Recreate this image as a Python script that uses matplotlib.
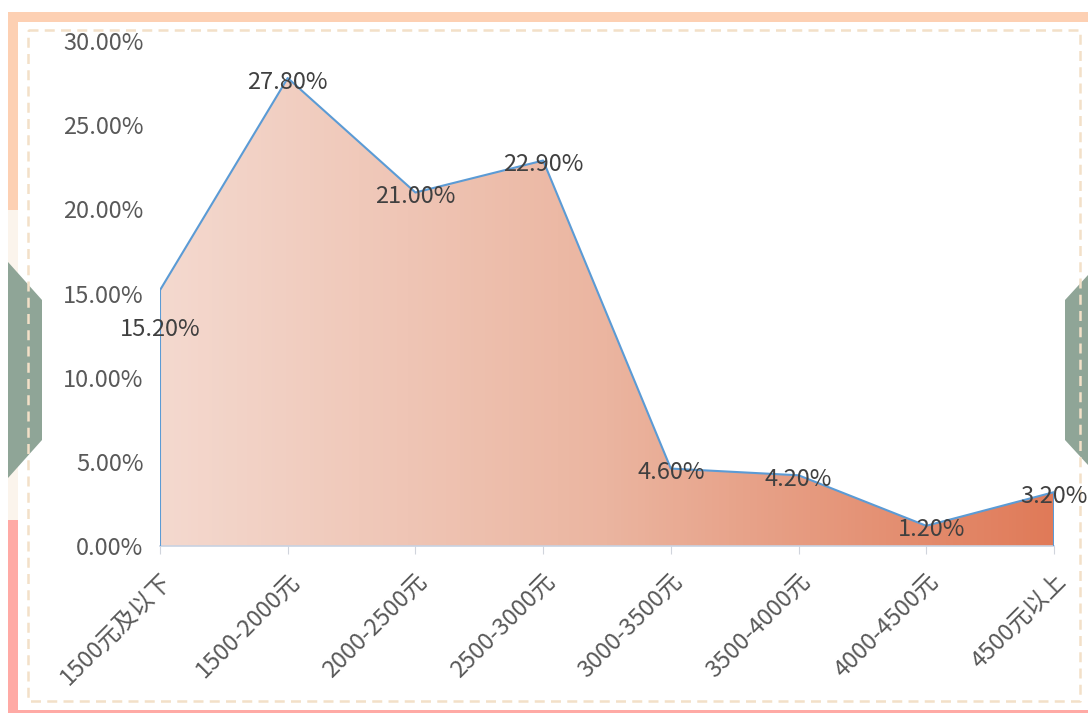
import numpy as np
import matplotlib.pyplot as plt
from matplotlib.patches import Polygon, Rectangle
from matplotlib.colors import LinearSegmentedColormap

plt.rcParams['font.family'] = ['Noto Sans CJK SC', 'DejaVu Sans']

# 数据
categories = ['1500元及以下', '1500-2000元', '2000-2500元', '2500-3000元',
              '3000-3500元', '3500-4000元', '4000-4500元', '4500元以上']
values = [15.2, 27.8, 21.0, 22.9, 4.6, 4.2, 1.2, 3.2]
y_ticks = [0, 5, 10, 15, 20, 25, 30]

W, H = 1088, 713
fig = plt.figure(figsize=(W / 100, H / 100), dpi=100)

# 背景装饰 (像素坐标)
bg = fig.add_axes([0, 0, 1, 1], zorder=0)
bg.set_xlim(0, W)
bg.set_ylim(H, 0)
bg.axis('off')
bg.add_patch(Rectangle((8, 12), W - 8, 10, color='#fdd0b3', lw=0))
bg.add_patch(Rectangle((8, 12), 10, 198, color='#fdd0b3', lw=0))
bg.add_patch(Rectangle((8, 210), 10, 310, color='#fbf4ec', lw=0))
bg.add_patch(Rectangle((8, 520), 10, H - 520, color='#ffaaa5', lw=0))
bg.add_patch(Rectangle((8, 710), W - 8, 3, color='#ffaaa5', lw=0))
bg.plot([28, 1080, 1080, 28, 28], [30, 30, 701, 701, 30], ls=(0, (4, 2.5)),
        color='#f3e0c8', lw=1.8)
bg.add_patch(Polygon([(8, 262), (42, 300), (42, 440), (8, 478)],
                     color='#8fa597', lw=0))
bg.add_patch(Polygon([(1088, 275), (1065, 300), (1065, 440), (1088, 465)],
                     color='#8fa597', lw=0))

# 主图
ax = fig.add_axes([160 / W, 1 - 546 / H, (1054 - 160) / W, (546 - 41) / H],
                  zorder=1)
ax.patch.set_alpha(0)
x = np.arange(len(categories))
ax.set_xlim(0, len(categories) - 1)
ax.set_ylim(0, 30)

# 渐变填充
cmap = LinearSegmentedColormap.from_list('g', ['#f4d9cf', '#ebb5a0', '#e07a58'])
grad = np.linspace(0, 1, 256).reshape(1, -1)
img = ax.imshow(grad, cmap=cmap, aspect='auto',
                extent=[0, len(categories) - 1, 0, 30], zorder=1)
poly = Polygon(np.column_stack([np.r_[x[0], x, x[-1]], np.r_[0, values, 0]]),
               closed=True, transform=ax.transData, facecolor='none', edgecolor='none')
ax.add_patch(poly)
img.set_clip_path(poly)

ax.plot(np.r_[x[0], x, x[-1]], np.r_[0, values, 0], color='#5b9bd5', lw=1.5, zorder=3)

# 数据标签
for i, v in enumerate(values):
    dy = -28 if i == 0 else -3
    dx = 4 if i == 6 else 0
    ax.annotate(f'{v:.2f}%', (i, v), xytext=(dx, dy),
                textcoords='offset points', ha='center', va='center',
                fontsize=17, color='#404040', zorder=4)

ax.set_yticks(y_ticks)
ax.set_yticklabels([f'{t:.2f}%' for t in y_ticks])
ax.set_xticks(x)
ax.set_xticklabels(categories, rotation=45, ha='right', rotation_mode='anchor')
ax.tick_params(axis='y', length=0, labelsize=17, labelcolor='#595959', pad=12)
ax.tick_params(axis='x', length=6, color='#d0d4dc', labelsize=17,
               labelcolor='#595959', pad=11)
for s in ['top', 'right', 'left']:
    ax.spines[s].set_visible(False)
ax.spines['bottom'].set_color('#c8d2e2')
ax.spines['bottom'].set_linewidth(1.2)

fig.savefig('out.png', dpi=100)
